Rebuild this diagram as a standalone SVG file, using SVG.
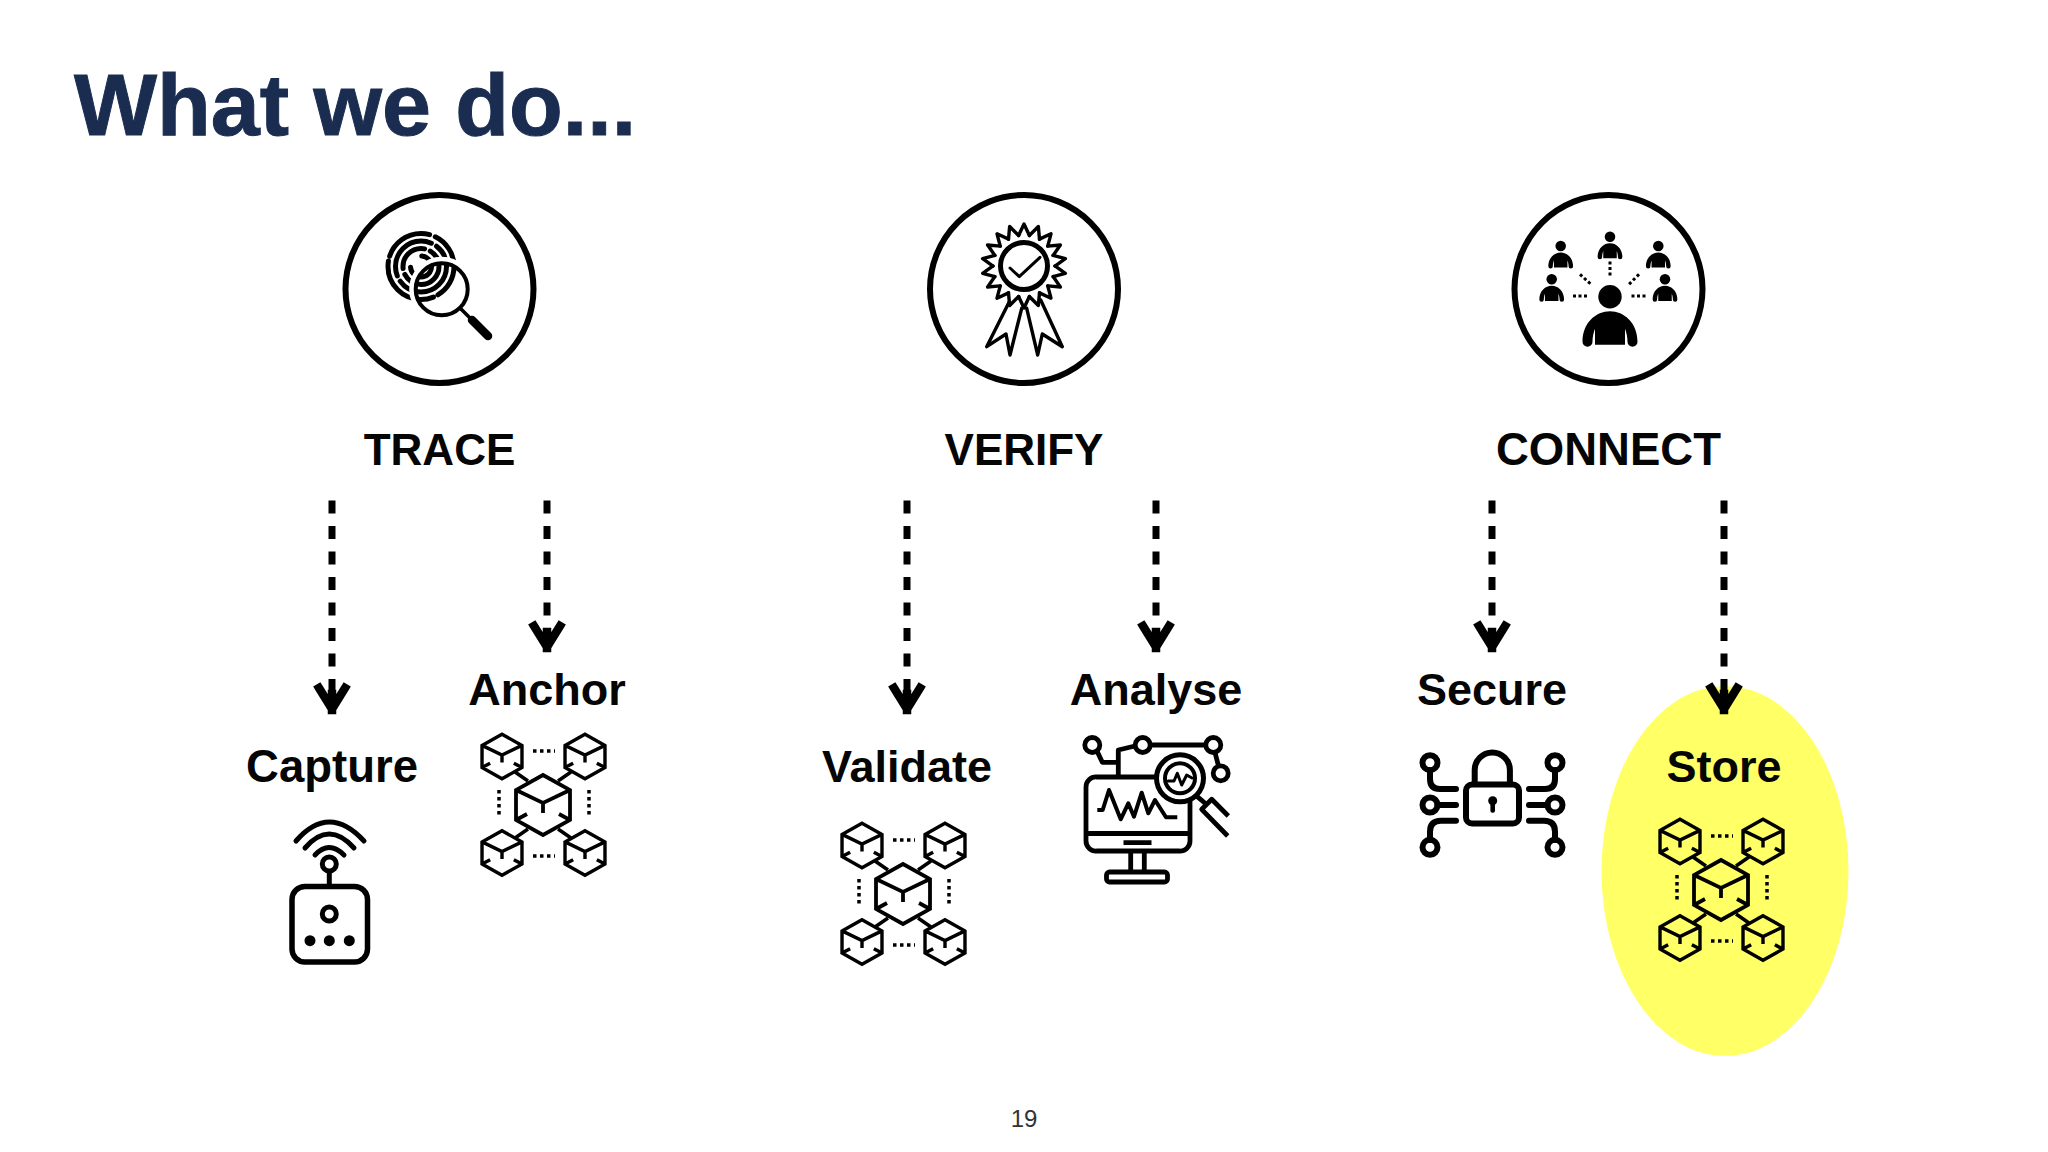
<svg xmlns="http://www.w3.org/2000/svg" xmlns:xlink="http://www.w3.org/1999/xlink" width="2048" height="1152" viewBox="0 0 2048 1152">
<style>
text{font-family:"Liberation Sans",Arial,sans-serif;font-weight:700;fill:#050505;text-anchor:middle}
.title{font-size:88px;fill:#1a2d50;text-anchor:start;stroke:#1a2d50;stroke-width:1}
.head{font-size:44px}
.lbl{font-size:45px}
.num{font-size:24px;font-weight:400;fill:#333}
.ring{fill:#fff;stroke:#000;stroke-width:6}
.ln{fill:none;stroke:#000;stroke-linecap:round;stroke-linejoin:round}
.cube{fill:none;stroke:#000;stroke-linejoin:miter}
.dot{fill:none;stroke:#000;stroke-dasharray:3.5 3.5}
.conn{fill:none;stroke:#000;stroke-width:7;stroke-dasharray:13 12.5;marker-end:url(#arrow)}
</style>
<defs>
<marker id="arrow" markerUnits="userSpaceOnUse" viewBox="-30 -20 34 40" refX="0" refY="0" markerWidth="34" markerHeight="40" orient="auto">
<path d="M-24 -13L-3 0L-24 13M-18 0H-2" fill="none" stroke="#000" stroke-width="8.5" stroke-linecap="square" stroke-linejoin="round"/>
</marker>
<g id="cube"><path class="cube" d="M0-30L27-15V15L0 30L-27 15V-15ZM-27-15L0-2L27-15M0-2V8M-27 15L-16 9M27 15L16 9"/></g>
<g id="block">
<use xlink:href="#cube" href="#cube" stroke-width="3.8"/>
<use href="#cube" xlink:href="#cube" stroke-width="4.6" transform="translate(-41 -48.5) scale(.74)"/>
<use href="#cube" xlink:href="#cube" stroke-width="4.6" transform="translate(42 -48.5) scale(.74)"/>
<use href="#cube" xlink:href="#cube" stroke-width="4.6" transform="translate(-41 48) scale(.74)"/>
<use href="#cube" xlink:href="#cube" stroke-width="4.6" transform="translate(42 48) scale(.74)"/>
<path d="M-28-33L-15-24M28-33L15-24M-28 33L-15 24M28 33L15 24" fill="none" stroke="#000" stroke-width="3.5"/>
<path class="dot" stroke-width="3.5" d="M-10-54H12M-10 51H12M-44-15V13M46-15V13"/>
</g>
<g id="person"><circle cx="0" cy="0" r="11.7"/><path d="M-27.5 45C-27.5 26-14 14.5 0 14.5S27.5 26 27.5 45A5 5 0 0 1 17.5 45C17.5 40 16.5 36 15 32V48H-15V32C-16.5 36-17.5 40-17.5 45A5 5 0 0 1-27.5 45Z"/></g>
<path id="spike" class="ln" stroke-width="3.4" d="M-5.4-30.5L0-42L5.4-30.5"/>
</defs>
<rect width="2048" height="1152" fill="#fff"/>
<text class="title" x="74" y="135">What we do...</text>

<g id="store-highlight"><ellipse cx="1725" cy="871" rx="123.5" ry="185" fill="#ffff66"/></g>

<g id="connectors">
<path class="conn" d="M332 500.5V712"/>
<path class="conn" d="M547 500.5V650"/>
<path class="conn" d="M907 500.5V712"/>
<path class="conn" d="M1156 500.5V650"/>
<path class="conn" d="M1492 500.5V650"/>
<path class="conn" d="M1724 500.5V712"/>
</g>

<g id="trace">
<circle class="ring" cx="439.5" cy="289" r="94"/>
<g class="ln" stroke-width="5">
<circle cx="421" cy="266.5" r="33" stroke-dasharray="34 5 70 5 50 6 36 3"/>
<circle cx="421" cy="266.5" r="25.5" stroke-dasharray="64 6 60 6"/>
<circle cx="421" cy="266.5" r="18" stroke-dasharray="48 6 34 6"/>
<circle cx="421" cy="266.5" r="10.5" stroke-dasharray="32 18"/>
</g>
<circle cx="441.7" cy="289.3" r="30" fill="none" stroke="#fff" stroke-width="5"/>
<circle cx="441.7" cy="289.3" r="26" fill="none" stroke="#000" stroke-width="4"/>
<path class="ln" stroke-width="3.5" d="M461 309L470 318"/>
<path class="ln" stroke-width="8.5" d="M472 320L488 336"/>
<text class="head" x="439.5" y="465">TRACE</text>
</g>

<g id="verify">
<circle class="ring" cx="1024" cy="289" r="94"/>
<g transform="translate(1024 266)">
<use href="#spike" xlink:href="#spike"/><use href="#spike" xlink:href="#spike" transform="rotate(20)"/><use href="#spike" xlink:href="#spike" transform="rotate(40)"/><use href="#spike" xlink:href="#spike" transform="rotate(60)"/><use href="#spike" xlink:href="#spike" transform="rotate(80)"/><use href="#spike" xlink:href="#spike" transform="rotate(100)"/><use href="#spike" xlink:href="#spike" transform="rotate(120)"/><use href="#spike" xlink:href="#spike" transform="rotate(140)"/><use href="#spike" xlink:href="#spike" transform="rotate(160)"/><use href="#spike" xlink:href="#spike" transform="rotate(180)"/><use href="#spike" xlink:href="#spike" transform="rotate(200)"/><use href="#spike" xlink:href="#spike" transform="rotate(220)"/><use href="#spike" xlink:href="#spike" transform="rotate(240)"/><use href="#spike" xlink:href="#spike" transform="rotate(260)"/><use href="#spike" xlink:href="#spike" transform="rotate(280)"/><use href="#spike" xlink:href="#spike" transform="rotate(300)"/><use href="#spike" xlink:href="#spike" transform="rotate(320)"/><use href="#spike" xlink:href="#spike" transform="rotate(340)"/>
<circle r="23.5" fill="none" stroke="#000" stroke-width="5"/>
</g>
<path class="ln" stroke-width="3" d="M1010 268L1019.3 276.7L1040 257.3"/>
<path class="ln" stroke-width="3.4" d="M1009.3 301.7L986.7 346.7L1006 334L1010 355L1021.7 308.3M1026.7 308.3L1037.7 355L1042.3 334L1062.3 346.7L1040.7 300"/>
<text class="head" x="1024" y="465">VERIFY</text>
</g>

<g id="connect">
<circle class="ring" cx="1608.5" cy="289" r="94"/>
<use href="#person" xlink:href="#person" transform="translate(1610 296.7)"/>
<use href="#person" xlink:href="#person" transform="translate(1560.7 246) scale(.45)"/>
<use href="#person" xlink:href="#person" transform="translate(1610 236.7) scale(.45)"/>
<use href="#person" xlink:href="#person" transform="translate(1658.3 246) scale(.45)"/>
<use href="#person" xlink:href="#person" transform="translate(1551.7 279.3) scale(.45)"/>
<use href="#person" xlink:href="#person" transform="translate(1665 279.3) scale(.45)"/>
<path fill="none" stroke="#000" stroke-width="3" stroke-dasharray="3 2.5" d="M1610 261.5V278M1580 274.3L1591.7 285M1639 274.3L1628.3 285M1573 296H1589M1631.5 296H1647"/>
<text class="head" x="1608.5" y="465" style="font-size:45.5px">CONNECT</text>
</g>

<g id="capture">
<text class="lbl" x="332" y="782" style="font-size:45.5px">Capture</text>
<g class="ln" stroke-width="5">
<path d="M296 841Q329 803 364 841M305 848Q329 820 354 848M315 855Q329 840 344 855"/>
<circle cx="329.3" cy="864" r="7"/>
<path d="M329.3 872V885"/>
<rect x="292" y="886.5" width="75.5" height="75.5" rx="13" stroke-width="5.5"/>
<circle cx="329.3" cy="914" r="7"/>
</g>
<circle cx="310" cy="940.7" r="5.5"/><circle cx="329.3" cy="940.7" r="5.5"/><circle cx="349.3" cy="940.7" r="5.5"/>
</g>

<g id="anchor">
<text class="lbl" x="547" y="705">Anchor</text>
<use href="#block" xlink:href="#block" transform="translate(543 805)"/>
</g>

<g id="validate">
<text class="lbl" x="907" y="782">Validate</text>
<use href="#block" xlink:href="#block" transform="translate(903 894)"/>
</g>

<g id="analyse">
<text class="lbl" x="1156" y="705">Analyse</text>
<g class="ln" stroke-width="4.8">
<path stroke-linecap="butt" d="M1155 777H1097a10 10 0 0 0-11 10V841a10 10 0 0 0 11 10H1179a10 10 0 0 0 11-10V800M1086 833.5H1190M1123.5 842.7H1151.5M1130.7 853V872M1144.3 853V872"/>
<rect x="1106.5" y="872" width="61" height="10" rx="3"/>
<path stroke-width="4" stroke-linecap="butt" d="M1097.3 810H1102.7L1109 790L1120.7 819.3L1128.3 803.3L1134 816.7L1141.7 792.7L1148.3 813.3L1155 800L1166 817.3H1177.3"/>
<circle cx="1092.3" cy="745" r="7.5"/><circle cx="1142.7" cy="745" r="7.5"/><circle cx="1213.3" cy="745" r="7.5"/><circle cx="1220.7" cy="773.3" r="7.5"/>
<path stroke-linecap="butt" d="M1097 751L1102.3 762.3H1118.3M1118.3 775V750L1135 746M1150 745H1206M1215 752.5L1218.5 766"/>
<circle cx="1180" cy="778.3" r="23.5" stroke-width="5"/>
<circle cx="1180" cy="778.3" r="15" stroke-width="4"/>
<path stroke-width="3" d="M1168.3 781H1174L1177.3 773.3L1181.7 785L1186.7 775L1192 778"/>
<path stroke-linecap="butt" d="M1197.3 796.7L1206 804M1228.3 816L1211.7 799.3L1201.7 809.3L1227.7 836"/>
</g>
</g>

<g id="secure">
<text class="lbl" x="1492" y="705">Secure</text>
<g class="ln" stroke-width="6">
<rect x="1466" y="784.5" width="53" height="39" rx="6"/>
<path d="M1474.7 783V770a17.6 17.6 0 0 1 35.2 0V783"/>
<g id="circuit">
<circle cx="1430" cy="762.7" r="7.5"/><circle cx="1430" cy="805" r="7.5"/><circle cx="1430" cy="847.3" r="7.5"/>
<path d="M1430 770V779q0 10 10 10H1456M1437.5 805H1456M1456 820.7H1441q-11 0-11 11V840"/>
</g>
<use href="#circuit" xlink:href="#circuit" transform="matrix(-1 0 0 1 2985 0)"/>
</g>
<circle cx="1492.7" cy="800.7" r="4.5"/><rect x="1490.4" y="801" width="4.6" height="11.7" rx="2"/>
</g>

<g id="store">
<text class="lbl" x="1724" y="782">Store</text>
<use href="#block" xlink:href="#block" transform="translate(1721 890)"/>
</g>

<g id="page-number"><text class="num" x="1024" y="1127">19</text></g>
</svg>
